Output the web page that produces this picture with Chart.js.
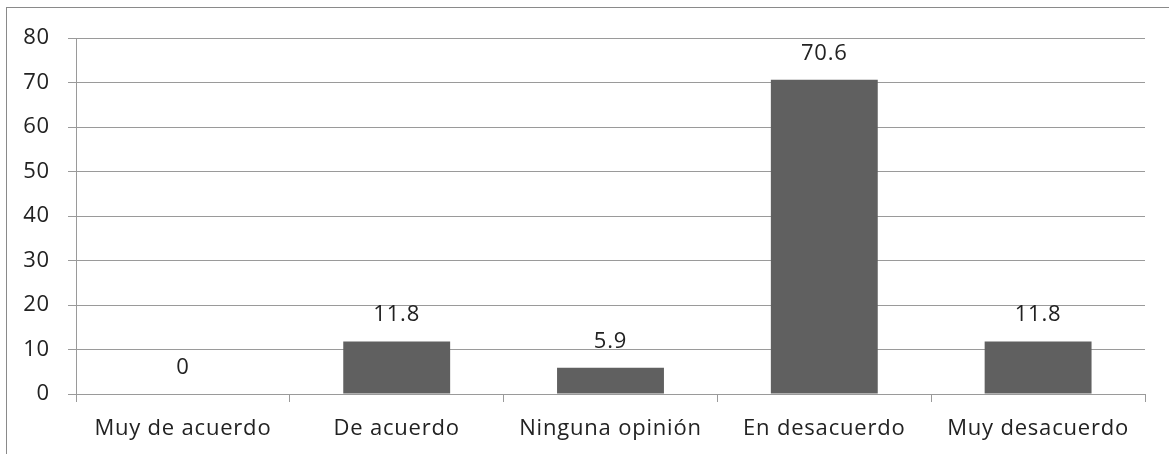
<!DOCTYPE html>
<html><head><meta charset="utf-8">
<script src="https://cdn.jsdelivr.net/npm/chart.js@4/dist/chart.umd.min.js"></script>
<style>
html,body{margin:0;padding:0;background:#fff;}
#frame{position:absolute;left:6px;top:7px;width:1163px;height:447px;border-left:1px solid #8a8a8a;border-top:1px solid #8a8a8a;box-sizing:border-box;}
#wrap{position:absolute;left:1px;top:1px;width:1162px;height:446px;}
</style></head><body>
<div id="frame"><div id="wrap"><canvas id="c"></canvas></div></div>
<script>
const categories = ["Muy de acuerdo","De acuerdo","Ninguna opinión","En desacuerdo","Muy desacuerdo"];
const values = [0, 11.8, 5.9, 70.6, 11.8];
const yTicks = [0,10,20,30,40,50,60,70,80];

const FONT = "'Open Sans', sans-serif";
const spacingPlugin = {
  id:'spacing',
  beforeInit(chart){ chart.ctx.letterSpacing = '0.8px'; },
  beforeDraw(chart){ chart.ctx.letterSpacing = '0.8px'; }
};
const labelPlugin = {
  id:'valLabels',
  afterDatasetsDraw(chart){
    const ctx = chart.ctx;
    const meta = chart.getDatasetMeta(0);
    ctx.save();
    ctx.letterSpacing = '0.8px';
    ctx.font = "22px " + FONT;
    ctx.fillStyle = "#222";
    ctx.textAlign = "center";
    ctx.textBaseline = "alphabetic";
    meta.data.forEach((bar,i)=>{
      ctx.fillText(String(values[i]), bar.x, bar.y - 20);
    });
    ctx.restore();
  }
};

new Chart(document.getElementById('c'), {
  type:'bar',
  data:{labels:categories, datasets:[{data:values, backgroundColor:'#606060', borderWidth:0, barPercentage:0.5, categoryPercentage:1.0}]},
  options:{
    responsive:true, maintainAspectRatio:false, animation:false,
    layout:{padding:{top:29,right:25,left:0,bottom:0}},
    plugins:{legend:{display:false}, tooltip:{enabled:false}},
    scales:{
      x:{
        grid:{display:true, drawOnChartArea:false, drawTicks:true, tickLength:8, color:'#9a9a9a', offset:true},
        border:{display:true,color:'#9a9a9a'},
        ticks:{font:{family:FONT,size:22}, color:'#222', padding:14, maxRotation:0},
        afterFit(s){ s.height = 61; s.paddingLeft = 0; s.paddingRight = 0; }
      },
      y:{
        min:0,max:80,
        afterBuildTicks(s){ s.ticks = yTicks.map(v=>({value:v})); },
        grid:{color:'#9a9a9a', tickLength:8, drawTicks:true},
        border:{display:true,color:'#9a9a9a'},
        ticks:{font:{family:FONT,size:22}, color:'#222', padding:18},
        afterFit(s){ s.width = 68; s.paddingTop = 0; s.paddingBottom = 0; }
      }
    }
  },
  plugins:[spacingPlugin, labelPlugin]
});
</script>
</body></html>
